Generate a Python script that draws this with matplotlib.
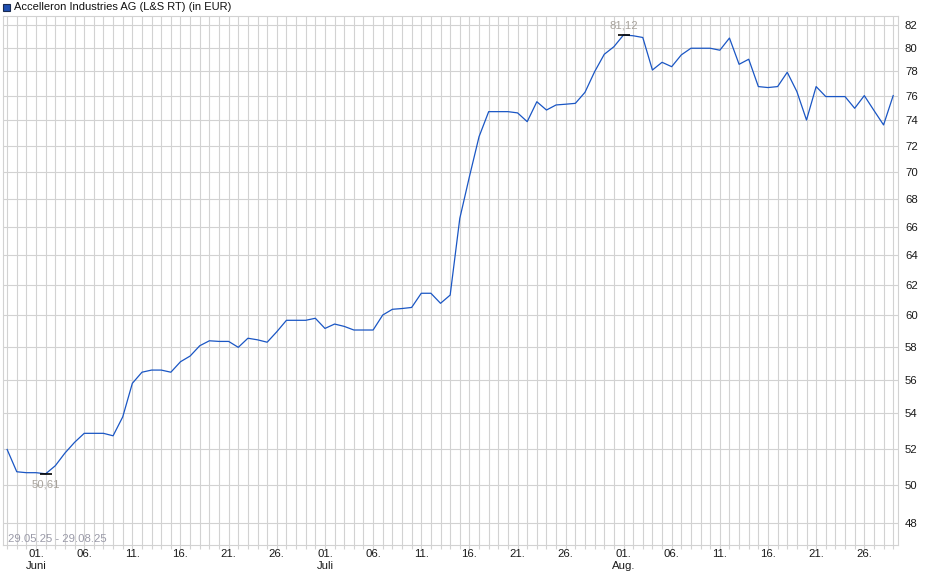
import numpy as np
import pandas as pd
import matplotlib
matplotlib.use("Agg")
import matplotlib.pyplot as plt
import matplotlib.dates as mdates
from matplotlib.patches import Rectangle
from matplotlib.ticker import FixedLocator, NullFormatter, NullLocator

plt.rcParams['font.family'] = ['Liberation Sans', 'DejaVu Sans']

# daily closes, 29.05.25 - 29.08.25
dates = pd.date_range("2025-05-29", "2025-08-29", freq="D")
prices = [
    51.95, 50.72, 50.67, 50.67, 50.61, 51.05, 51.75, 52.35, 52.86, 52.86,
    52.86, 52.72, 53.80, 55.78, 56.45, 56.58, 56.58, 56.45, 57.09, 57.44,
    58.08, 58.39, 58.35, 58.35, 57.98, 58.55, 58.45, 58.30, 58.96, 59.69,
    59.69, 59.69, 59.82, 59.17, 59.45, 59.30, 59.07, 59.07, 59.07, 60.03,
    60.40, 60.45, 60.52, 61.45, 61.45, 60.79, 61.33, 66.60, 69.66, 72.72,
    74.70, 74.70, 74.70, 74.60, 73.90, 75.50, 74.83, 75.24, 75.30, 75.37,
    76.27, 77.98, 79.45, 80.10, 81.12, 81.05, 80.90, 78.12, 78.77, 78.40,
    79.40, 79.97, 79.97, 79.97, 79.80, 80.85, 78.60, 79.03, 76.74, 76.66,
    76.74, 77.93, 76.33, 74.03, 76.74, 75.92, 75.92, 75.92, 74.97, 76.00,
    74.80, 73.64, 76.00,
]
y_ticks = list(range(48, 83, 2))
tick_days = [1, 6, 11, 16, 21, 26]
month_names = {6: "Juni", 7: "Juli", 8: "Aug."}
title = "Accelleron Industries AG (L&S RT) (in EUR)"
range_text = "29.05.25 - 29.08.25"

W, H = 940, 579
fig = plt.figure(figsize=(W / 100, H / 100), dpi=100)
ax = fig.add_axes([3 / W, (H - 545) / H, 895 / W, 529 / H])

line_col = "#1a56c4"
grid_col = "#d2d2d2"
note_col = "#a8a39c"

x = mdates.date2num(dates.to_pydatetime())
ax.plot(x, prices, color=line_col, lw=0.9, zorder=3)

ax.set_yscale("log")
ax.set_ylim(46.88, 82.79)
ax.set_xlim(x[0] - 0.43, x[-1] + 0.5)

ax.yaxis.set_major_locator(FixedLocator(y_ticks))
ax.yaxis.set_minor_locator(NullLocator())
ax.yaxis.set_minor_formatter(NullFormatter())
ax.set_yticklabels([str(v) for v in y_ticks])
ax.yaxis.tick_right()
ax.tick_params(axis="y", which="both", length=0, pad=5, labelsize=8.2, labelcolor="#1a1a1a")

# x ticks: every day for grid, labels on 1,6,11,...
major = [d for d in dates if d.day in tick_days]
labels = []
for d in major:
    lab = "%02d." % d.day
    if d.day == 1:
        lab += "\n" + month_names[d.month]
    labels.append(lab)
ax.xaxis.set_major_locator(FixedLocator(mdates.date2num([d.to_pydatetime() for d in major])))
ax.set_xticklabels(labels, ha="center", va="top", linespacing=1.2)
ax.xaxis.set_minor_locator(FixedLocator(x))
ax.tick_params(axis="x", which="both", length=3, width=0.8, color=grid_col, pad=0,
               labelsize=8.2, labelcolor="#1a1a1a")
for lab in ax.get_xticklabels():
    lab.set_multialignment("center")

ax.grid(True, axis="x", which="both", color=grid_col, lw=0.8, zorder=0)
ax.grid(True, axis="y", which="major", color=grid_col, lw=0.8, zorder=0)
ax.set_axisbelow(True)
for s in ax.spines.values():
    s.set_color(grid_col)
    s.set_linewidth(0.8)

# min / max markers
i_max = int(np.argmax(prices))
i_min = int(np.argmin(prices))
for i, off, va in [(i_max, 3, "bottom"), (i_min, -4, "top")]:
    ax.plot(x[i], prices[i], marker="_", ms=9, mew=1.2, color="black", zorder=4)
    ax.annotate(("%.2f" % prices[i]).replace(".", ","), (x[i], prices[i]),
                xytext=(0, off), textcoords="offset points", ha="center", va=va,
                fontsize=8.2, color=note_col, zorder=5)

ax.text(5 / 895, 6 / 529, range_text, transform=ax.transAxes, ha="left", va="center",
        fontsize=8.2, color="#9a9aa8")

# title with coloured square
fig.add_artist(Rectangle((3 / W, (H - 11) / H), 7 / W, 7 / H, transform=fig.transFigure,
                         facecolor="#1f4fb0", edgecolor="#1a2a50", lw=0.8))
fig.text(14 / W, (H - 7) / H, title, ha="left", va="center", fontsize=8, color="#111111")

fig.savefig("out.png", dpi=100)
